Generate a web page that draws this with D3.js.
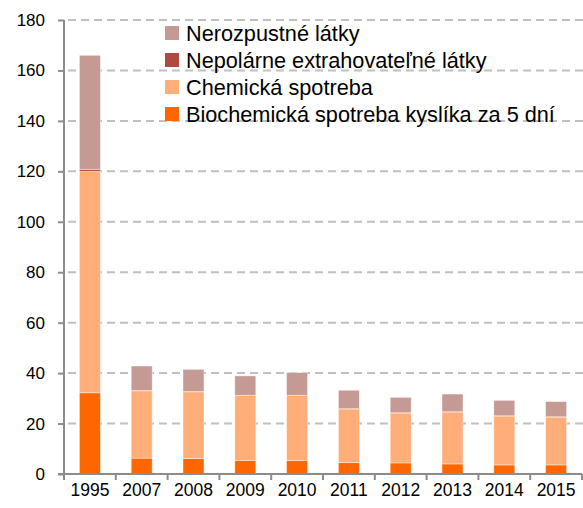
<!DOCTYPE html>
<html>
<head>
<meta charset="utf-8">
<script src="https://cdn.jsdelivr.net/npm/d3@7"></script>
<style>
  body { margin: 0; background: #fff; }
  svg { display: block; font-family: "Liberation Sans", Arial, sans-serif; }
</style>
</head>
<body>
<div id="chart"></div>
<script>
// data
const years = ["1995", "2007", "2008", "2009", "2010", "2011", "2012", "2013", "2014", "2015"];
const biochemicka = [32.2, 6.3, 6.1, 5.4, 5.3, 4.5, 4.4, 4.0, 3.6, 3.6];
const chemicka = [87.8, 26.7, 26.5, 25.7, 25.8, 21.3, 19.8, 20.6, 19.4, 19.0];
const nepolarne = [0.8, 0.1, 0.1, 0.1, 0.1, 0.1, 0.1, 0.1, 0.1, 0.1];
const nerozpustne = [45.2, 9.7, 8.8, 7.7, 9.0, 7.3, 6.1, 7.0, 6.1, 6.0];
const yTicks = [0, 20, 40, 60, 80, 100, 120, 140, 160, 180];

const seriesKeys = ["bio", "chem", "nep", "ner"];
const seriesNames = {
  ner: "Nerozpustné látky",
  nep: "Nepolárne extrahovateľné látky",
  chem: "Chemická spotreba",
  bio: "Biochemická spotreba kyslíka za 5 dní"
};
const colors = { ner: "#c69a94", nep: "#b04a40", chem: "#ffae79", bio: "#ff6600" };

const rows = years.map((y, i) => ({
  year: y, bio: biochemicka[i], chem: chemicka[i], nep: nepolarne[i], ner: nerozpustne[i]
}));

//size
const width = 583, height = 508;
const x0 = 64, x1 = 582, yTop = 20, yBottom = 474;

const svg = d3.select("#chart").append("svg")
  .attr("width", width).attr("height", height);

//scale
const xScale = d3.scaleBand().domain(years).range([x0, x1])
  .paddingInner(0.595).paddingOuter(0.2975);
const yScale = d3.scaleLinear().domain([0, 180]).range([yBottom, yTop]);

//grid
svg.append("g").attr("class", "grid")
  .selectAll("line")
  .data(yTicks.filter((d) => d > 0))
  .join("line")
  .attr("x1", x0 + 4).attr("x2", width)
  .attr("y1", (d) => yScale(d)).attr("y2", (d) => yScale(d))
  .attr("stroke", "#c0c0c0")
  .attr("stroke-width", 2)
  .attr("stroke-dasharray", "8,5");

//mark
const stacked = d3.stack().keys(seriesKeys)(rows);
svg.append("g").attr("class", "mark")
  .selectAll("g")
  .data(stacked)
  .join("g")
  .attr("fill", (s) => colors[s.key])
  .selectAll("rect")
  .data((s) => s)
  .join("rect")
  .attr("x", (d) => xScale(d.data.year))
  .attr("width", xScale.bandwidth())
  .attr("y", (d) => yScale(d[1]))
  .attr("height", (d) => yScale(d[0]) - yScale(d[1]))
  .attr("stroke", "#fff")
  .attr("stroke-opacity", 0.5)
  .attr("stroke-width", 0.8);

//y-axis
const yAxis = svg.append("g")
  .attr("transform", `translate(${x0},0)`)
  .call(d3.axisLeft(yScale).tickValues(yTicks).tickSize(6).tickPadding(13));
yAxis.select(".domain").attr("stroke", "#8c8c8c").attr("stroke-width", 2)
  .attr("d", `M0,${yTop}V${yBottom}`);
yAxis.selectAll(".tick line").attr("stroke", "#8c8c8c").attr("stroke-width", 2);
yAxis.selectAll(".tick text").attr("font-size", 17).attr("fill", "#000")
  .attr("font-family", "Liberation Sans, Arial, sans-serif");

//x-axis
const xAxis = svg.append("g")
  .attr("transform", `translate(0,${yBottom})`)
  .call(d3.axisBottom(xScale).tickSize(0).tickPadding(10));
xAxis.select(".domain").attr("stroke", "#8c8c8c").attr("stroke-width", 2)
  .attr("d", `M${x0 - 6},0H${x1}`);
xAxis.selectAll(".tick text").attr("font-size", 17.5).attr("fill", "#000")
  .attr("font-family", "Liberation Sans, Arial, sans-serif");
// ticks between categories
xAxis.append("g")
  .selectAll("line")
  .data(d3.range(years.length + 1))
  .join("line")
  .attr("x1", (i) => x0 + i * xScale.step())
  .attr("x2", (i) => x0 + i * xScale.step())
  .attr("y1", 0).attr("y2", 6)
  .attr("stroke", "#8c8c8c").attr("stroke-width", 2);

//legend
const legendKeys = ["ner", "nep", "chem", "bio"];
const legend = svg.append("g").attr("class", "legend")
  .attr("transform", "translate(165,26)");
const item = legend.selectAll("g")
  .data(legendKeys)
  .join("g")
  .attr("transform", (d, i) => `translate(0,${i * 27})`);
item.append("rect")
  .attr("width", 14).attr("height", 14)
  .attr("fill", (d) => colors[d]);
item.append("text")
  .attr("x", 21).attr("y", 7)
  .attr("dy", "0.36em")
  .attr("font-size", 21.7)
  .attr("fill", "#000")
  .text((d) => seriesNames[d]);
</script>
</body>
</html>
